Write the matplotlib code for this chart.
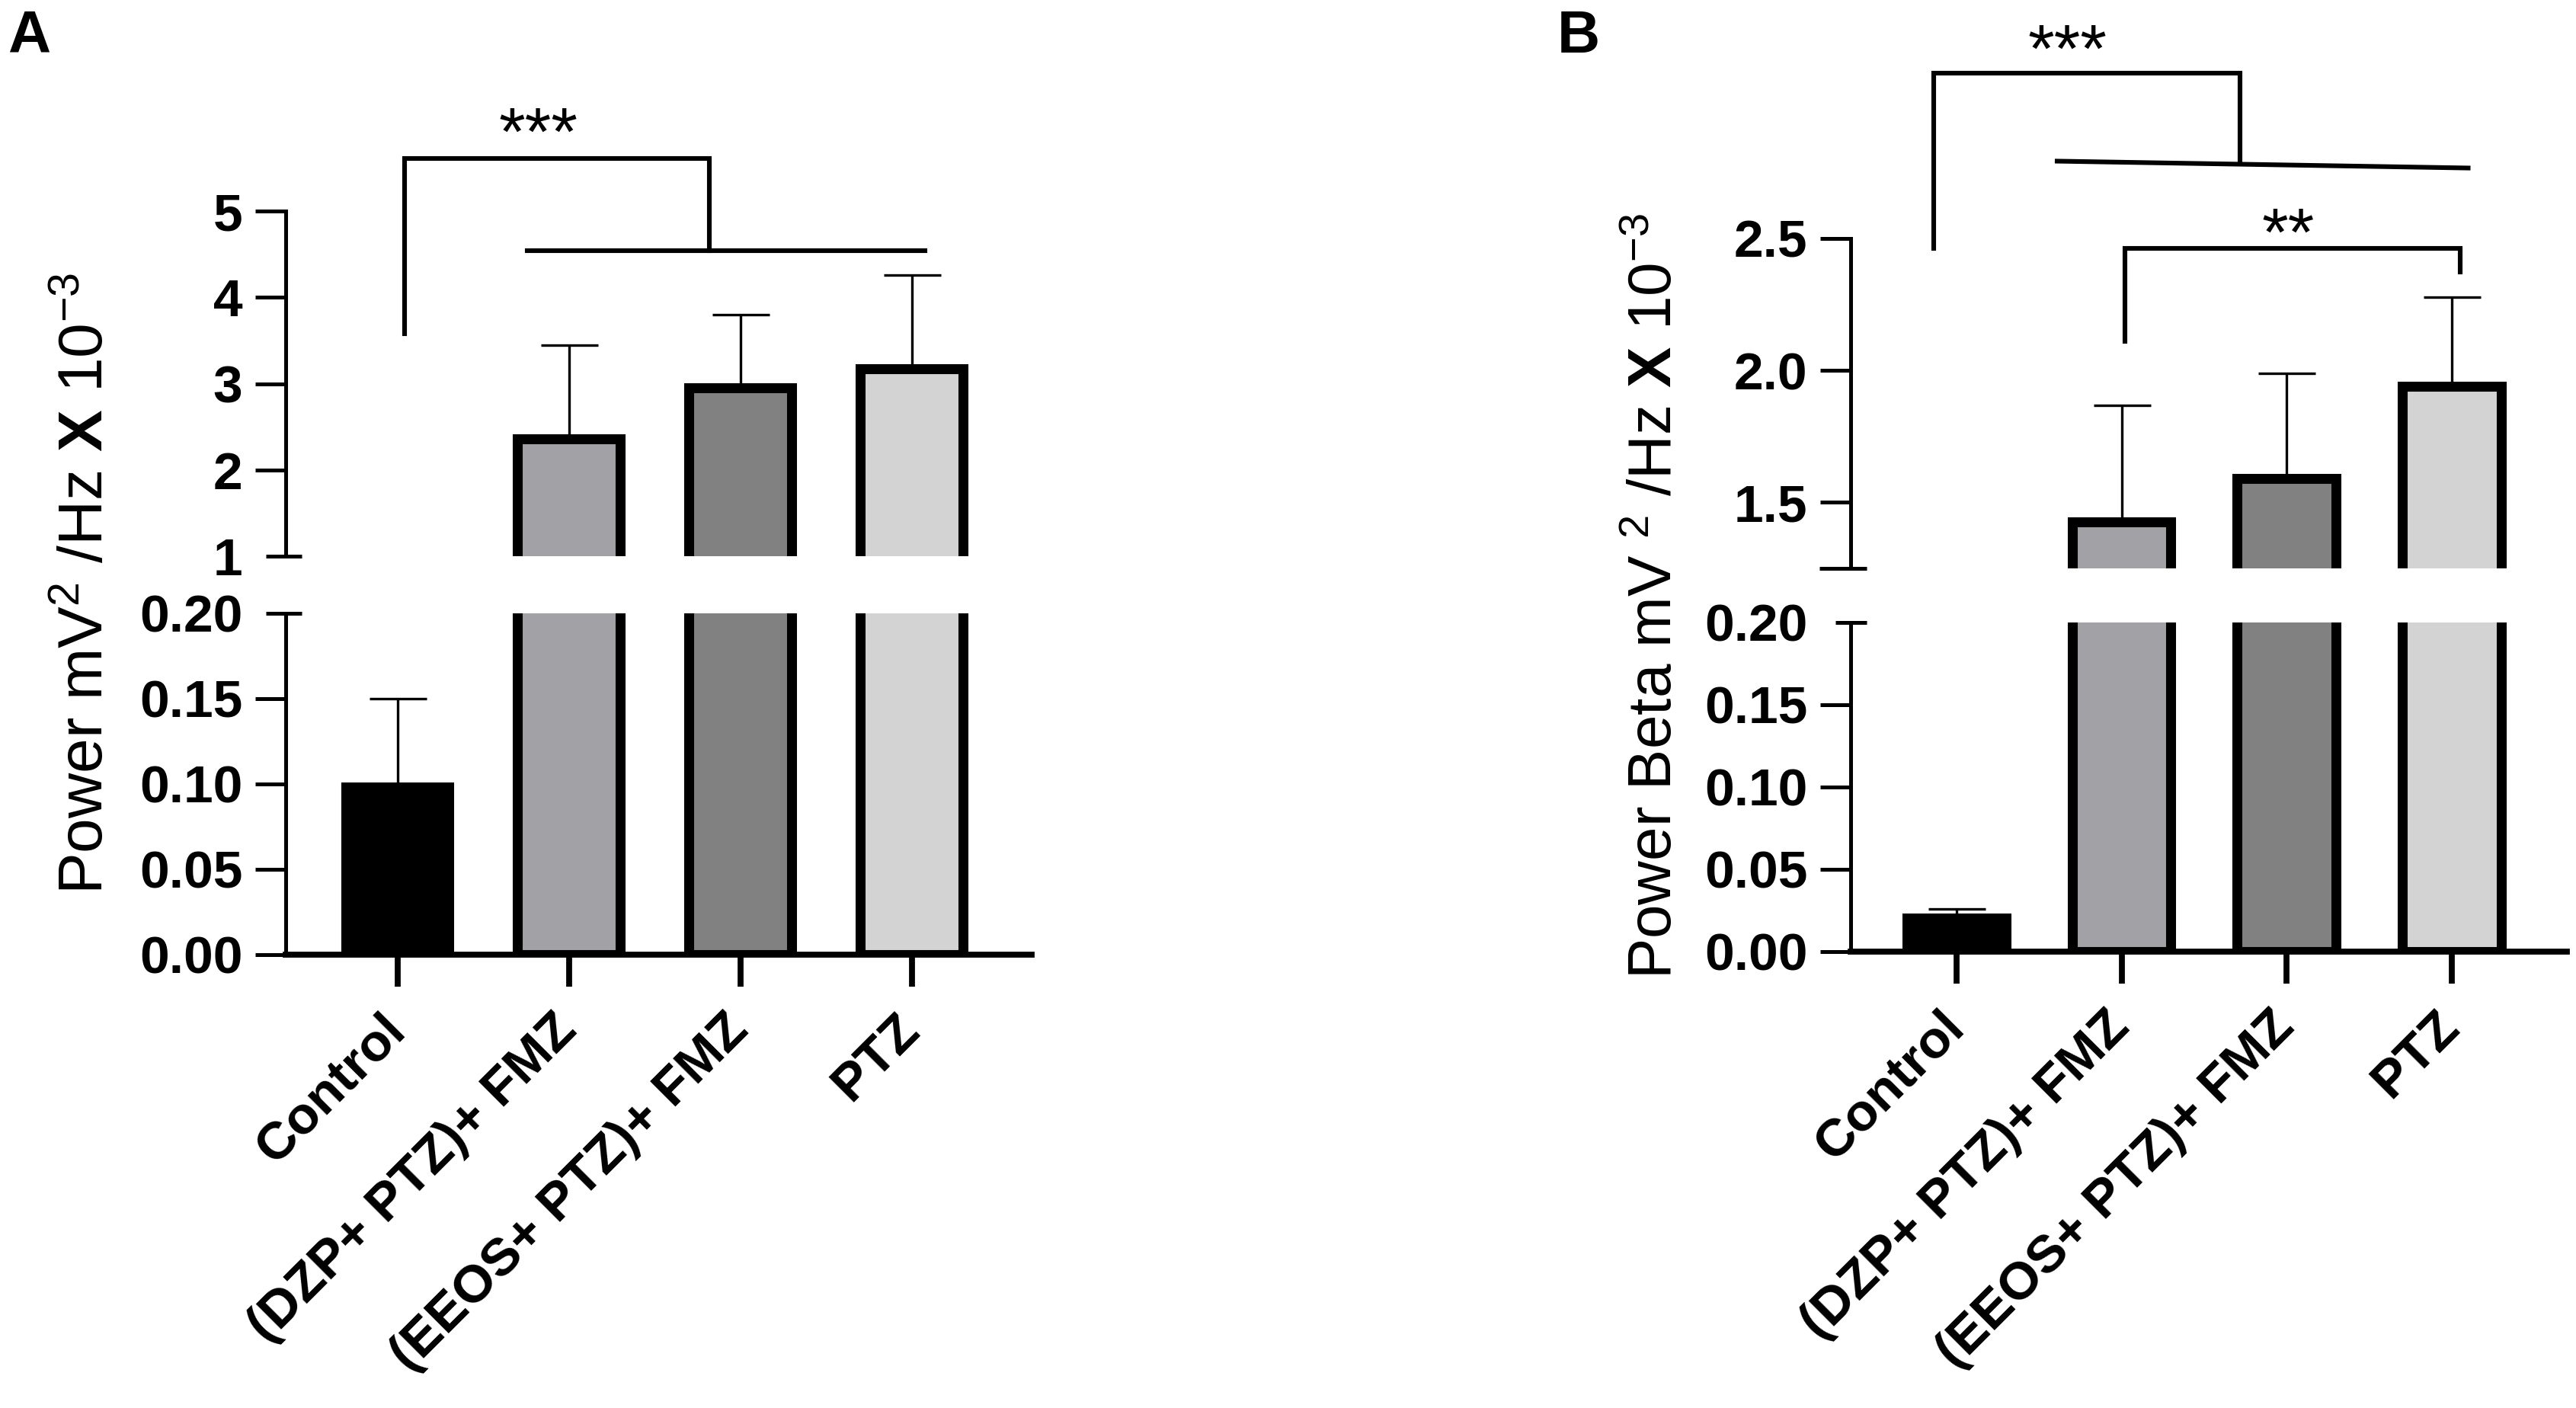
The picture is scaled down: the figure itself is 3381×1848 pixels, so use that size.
import matplotlib
matplotlib.use('Agg')
import matplotlib.pyplot as plt

plt.rcParams['font.family'] = ['Liberation Sans', 'DejaVu Sans']
plt.rcParams['mathtext.fontset'] = 'custom'
plt.rcParams['mathtext.rm'] = 'Liberation Sans'
plt.rcParams['mathtext.bf'] = 'Liberation Sans:bold'
plt.rcParams['mathtext.default'] = 'regular'

# ---------------- data ----------------
groups = ['Control', '(DZP+ PTZ)+ FMZ', '(EEOS+ PTZ)+ FMZ', 'PTZ']
bar_colors = ['#000000', '#a2a2a6', '#818181', '#d3d3d3']

# Panel A: Power (mV^2/Hz x 10^-3)
power_mean = [0.098, 2.36, 2.95, 3.17]
power_err = [0.052, 1.09, 0.85, 1.09]

# Panel B: Power Beta (mV^2/Hz x 10^-3)
beta_mean = [0.0204, 1.425, 1.59, 1.94]
beta_err = [0.0056, 0.444, 0.40, 0.338]

low_ticks = [0.0, 0.05, 0.10, 0.15]
low_ticklabels = ['0.00', '0.05', '0.10', '0.15']
a_up_ticks = [2, 3, 4, 5]
a_up_ticklabels = ['2', '3', '4', '5']
b_up_ticks = [1.5, 2.0, 2.5]
b_up_ticklabels = ['1.5', '2.0', '2.5']

# significance brackets (data coordinates of the upper axes)
a_br1_x = [0.04, 0.04, 1.82, 1.82]
a_br1_y = [3.58, 5.61, 5.61, 4.54]
a_br2_x = [0.755, 3.075]
a_br2_y = [4.54, 4.54]
a_star = (0.82, 5.66, '***')

b_br1_x = [-0.14, -0.14, 1.717, 1.717]
b_br1_y = [2.463, 3.126, 3.126, 2.79]
b_br2_x = [0.61, 3.10]
b_br2_y = [2.793, 2.767]
b_star1 = (0.67, 3.132, '***')
b_br3_x = [1.02, 1.02, 3.05, 3.05]
b_br3_y = [2.109, 2.463, 2.463, 2.374]
b_star2 = (2.01, 2.437, '**')

W, H = 3381, 1848
DPI = 200
fig = plt.figure(figsize=(W / DPI, H / DPI), dpi=DPI)

TICK_FS = 25
XLAB_FS = 25
TICK_LEN = 14.4
TICK_PAD = 6
BR_LW = 2.2


def px2fig(x0, y0, x1, y1):
    return [x0 / W, 1 - y1 / H, (x1 - x0) / W, (y1 - y0) / H]


def draw_bars(ax, means, errs):
    x = list(range(len(means)))
    ax.errorbar(x, means, yerr=[[0] * len(errs), errs], fmt='none',
                ecolor='black', elinewidth=1.2, capsize=13.5, capthick=1.2,
                zorder=2)
    ax.bar(x, means, width=0.6, color=bar_colors, edgecolor='black',
           linewidth=4.7, zorder=3)


def break_tick(ax, y, left_px, right_px, ax_w_px):
    ax.plot([-left_px / ax_w_px, right_px / ax_w_px], [y, y],
            transform=ax.get_yaxis_transform(), color='black', lw=1.8,
            clip_on=False, solid_capstyle='butt')


def panel(lower_px, upper_px, xlim, means, errs, up_ylim, up_ticks,
          up_labels, up_break_label, break_left_low, break_left_up):
    ax_w_px = lower_px[2] - lower_px[0]
    axl = fig.add_axes(px2fig(*lower_px))
    axu = fig.add_axes(px2fig(*upper_px))
    for ax in (axl, axu):
        draw_bars(ax, means, errs)
        ax.set_xlim(*xlim)
        ax.spines['top'].set_visible(False)
        ax.spines['right'].set_visible(False)
        ax.spines['left'].set_linewidth(1.8)
        ax.tick_params(axis='y', length=TICK_LEN, width=1.8, pad=TICK_PAD,
                       labelsize=TICK_FS)
        ax.tick_params(axis='y', which='minor', length=0,
                       pad=TICK_PAD + TICK_LEN, labelsize=TICK_FS)
        ax.set_facecolor('none')
    axl.set_ylim(0, 0.2)
    axl.set_yticks(low_ticks)
    axl.set_yticklabels(low_ticklabels, fontweight='bold')
    axl.set_yticks([0.2], minor=True)
    axl.set_yticklabels(['0.20'], minor=True, fontweight='bold')
    break_tick(axl, 0.2, break_left_low, 21, ax_w_px)
    axl.spines['bottom'].set_linewidth(2.8)
    axl.set_xticks(range(len(groups)))
    axl.set_xticklabels(groups, rotation=45, ha='right',
                        rotation_mode='anchor', va='center',
                        fontsize=XLAB_FS, fontweight='bold')
    axl.tick_params(axis='x', length=15, width=2.8, pad=17)

    axu.set_ylim(*up_ylim)
    axu.spines['bottom'].set_visible(False)
    axu.set_xticks([])
    axu.set_yticks(up_ticks)
    axu.set_yticklabels(up_labels, fontweight='bold')
    if up_break_label is not None:
        axu.set_yticks([up_ylim[0]], minor=True)
        axu.set_yticklabels([up_break_label], minor=True, fontweight='bold')
    break_tick(axu, up_ylim[0], break_left_up, 21, ax_w_px)
    return axl, axu


# ---------------- Panel A ----------------
a_low, a_up = panel((375, 805, 1354, 1253), (375, 277, 1354, 730),
                    (-0.653, 3.698), power_mean, power_err, (1, 5),
                    a_up_ticks, a_up_ticklabels, '1', 26, 26)
a_up.plot(a_br1_x, a_br1_y, color='black', lw=BR_LW, clip_on=False,
          solid_joinstyle='miter')
a_up.plot(a_br2_x, a_br2_y, color='black', lw=BR_LW, clip_on=False)
a_up.text(a_star[0], a_star[1], a_star[2], ha='center', va='baseline',
          fontsize=32, clip_on=False)

# ---------------- Panel B ----------------
b_low, b_up = panel((2429, 817, 3369, 1249), (2429, 313, 3369, 746),
                    (-0.641, 3.698), beta_mean, beta_err, (1.25, 2.5),
                    b_up_ticks, b_up_ticklabels, None, 20, 41)
b_up.plot(b_br1_x, b_br1_y, color='black', lw=BR_LW, clip_on=False,
          solid_joinstyle='miter')
b_up.plot(b_br2_x, b_br2_y, color='black', lw=BR_LW, clip_on=False)
b_up.plot(b_br3_x, b_br3_y, color='black', lw=BR_LW, clip_on=False,
          solid_joinstyle='miter')
b_up.text(b_star1[0], b_star1[1], b_star1[2], ha='center', va='baseline',
          fontsize=32, clip_on=False)
b_up.text(b_star2[0], b_star2[1], b_star2[2], ha='center', va='baseline',
          fontsize=32, clip_on=False)

# ---------------- labels ----------------
fig.text(135 / W, 1 - 766 / H,
         r'Power mV$^{2}$ /Hz $\mathbf{X}$ 10$^{-3}$',
         rotation=90, rotation_mode='anchor', ha='center', va='baseline',
         fontsize=29.5)
fig.text(2194 / W, 1 - 782 / H,
         r'Power Beta mV $^{2}$ /Hz $\mathbf{X}$ 10$^{-3}$',
         rotation=90, rotation_mode='anchor', ha='center', va='baseline',
         fontsize=28.8)

fig.text(10 / W, 1 - 68 / H, 'A', fontsize=28, fontweight='bold',
         ha='left', va='baseline')
fig.text(2044 / W, 1 - 69 / H, 'B', fontsize=28, fontweight='bold',
         ha='left', va='baseline')

fig.savefig('out.png', dpi=DPI, facecolor='white')
